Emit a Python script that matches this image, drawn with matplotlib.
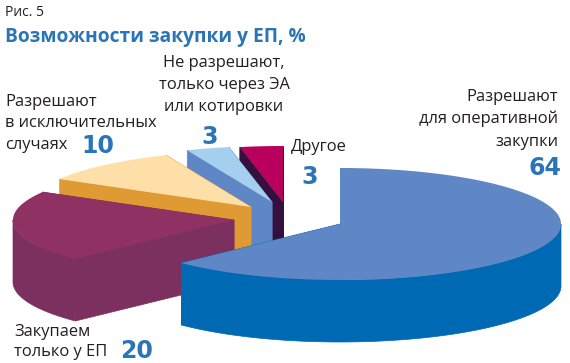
import numpy as np
import matplotlib
matplotlib.use('Agg')
import matplotlib.pyplot as plt

# slices clockwise from 12 o'clock
values = [64, 20, 10, 3, 3]
top_colors = ['#5f87c5', '#8f3162', '#ffdfa8', '#a5cfee', '#b8005c']
wall_colors = ['#0069b3', '#7c3060', '#e09a33', '#5f87c5', '#35103e']
apex_x = [340, 234, 251, 272, 283]
apex_y = [224, 220, 207, 202, 202]

rX = 221   # ellipse of the pie top
rY = 56
depth = 62
skew = 5   # degrees, the tilted pie squeezes the front a little

TEXT = '#231f20'
BLUE = '#2a75b8'

fig = plt.figure(figsize=(5.7, 3.63), dpi=100)
ax = fig.add_axes([0, 0, 1, 1])
ax.set_xlim(0, 570)
ax.set_ylim(363, 0)
ax.axis('off')

# angle measured clockwise from the top, start and end of each slice
ends = np.cumsum(values) / sum(values) * 360
starts = np.concatenate(([0], ends[:-1]))

# back slices first, the big one goes on top of everything
for i in range(len(values) - 1, -1, -1):
    a = np.linspace(starts[i], ends[i], 360)
    a = a - skew * np.sin(np.radians(a / 2))
    t = np.radians(90 - a)
    arc_x = apex_x[i] + rX * np.cos(t)
    arc_y = apex_y[i] - rY * np.sin(t)
    z = i * -2
    # outer wall, only the part that faces us
    front = arc_y >= apex_y[i]
    if front.sum() > 1:
        fx = arc_x[front]
        fy = arc_y[front]
        ax.fill(np.concatenate((fx, fx[::-1])),
                np.concatenate((fy, fy[::-1] + depth)),
                color=wall_colors[i], lw=0.5, zorder=z)
    # the two straight walls
    for j in [0, -1]:
        ax.fill([apex_x[i], arc_x[j], arc_x[j], apex_x[i]],
                [apex_y[i], arc_y[j], arc_y[j] + depth, apex_y[i] + depth],
                color=wall_colors[i], lw=0.5, zorder=z)
    ax.fill(np.concatenate(([apex_x[i]], arc_x)),
            np.concatenate(([apex_y[i]], arc_y)),
            color=top_colors[i], lw=0, zorder=z + 1)


def label(x, y, s, ha='left', size=11.9):
    ax.text(x, y, s, ha=ha, va='center', fontsize=size, color=TEXT,
            family='Open Sans', zorder=5)


def number(x, y, s, ha='left'):
    ax.text(x, y, s, ha=ha, va='center', fontsize=17, color=BLUE,
            family='DejaVu Sans', fontweight='bold', zorder=5)


label(5, 12, 'Рис. 5', size=10)
ax.text(5, 37, 'Возможности закупки у ЕП, %', ha='left', va='center', fontsize=13.8,
        color=BLUE, family='Open Sans', fontweight='bold')

label(224, 63, 'Не разрешают,', ha='center')
label(224, 85, 'только через ЭА', ha='center')
label(224, 107, 'или котировки', ha='center')
number(210, 137, '3', ha='center')

label(5, 102, 'Разрешают')
label(5, 123, 'в исключительных')
label(5, 145, 'случаях')
number(81, 146, '10')

label(291, 147, 'Другое')
number(301, 177, '3')

label(558, 97, 'Разрешают', ha='right')
label(558, 119, 'для оперативной', ha='right')
label(558, 142, 'закупки', ha='right')
number(561, 168, '64', ha='right')

label(14, 332, 'Закупаем')
label(14, 352, 'только у ЕП')
number(120, 351, '20')

plt.savefig('out.png', dpi=100)
